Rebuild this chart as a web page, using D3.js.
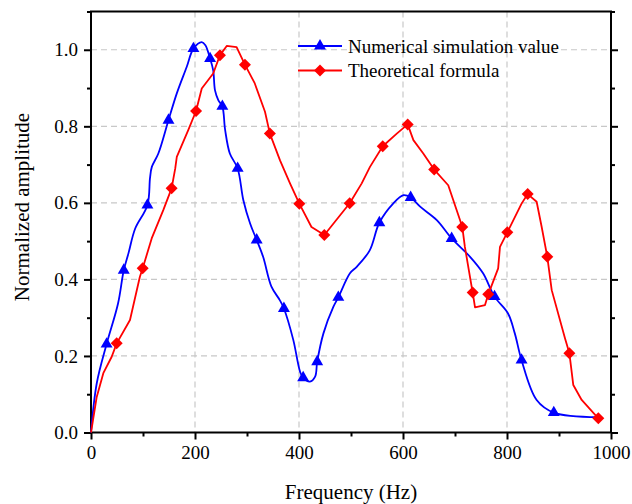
<!DOCTYPE html>
<html>
<head>
<meta charset="utf-8">
<script src="https://cdn.jsdelivr.net/npm/d3@7"></script>
<style>
body{margin:0;background:#fff;}
text{font-family:"Liberation Serif","Times New Roman",serif;fill:#000;}
</style>
</head>
<body>
<div id="main"></div>
<script>
const W = 632;
const H = 504;

// numerical simulation (blue), markers drawn at numMarks indices
var numFreq = [0, 11, 30, 52, 63, 72, 85, 108.5, 113.5, 117, 129.5, 149, 165, 184, 197, 213, 220, 229, 235, 238.5,
               245, 252.6, 258, 267, 282, 293, 306, 318.6, 331, 347, 363, 371, 389, 402, 408, 421, 431, 435, 447, 466,
               475.6, 498, 511, 536, 554.5, 581, 601, 614.7, 633, 665, 693.6, 729, 754, 776, 802, 815, 828, 857, 890, 975];
var numAmp = [0, 0.128, 0.231, 0.337, 0.424, 0.468, 0.533, 0.594, 0.665, 0.694, 0.729, 0.816, 0.886, 0.955, 1.003, 1.02, 1.012, 0.977, 0.946, 0.894,
              0.868, 0.852, 0.79, 0.729, 0.69, 0.607, 0.546, 0.503, 0.459, 0.381, 0.346, 0.324, 0.242, 0.159, 0.143, 0.133, 0.146, 0.185, 0.259, 0.328,
              0.353, 0.416, 0.433, 0.476, 0.548, 0.598, 0.62, 0.614, 0.59, 0.555, 0.507, 0.459, 0.416, 0.355, 0.311, 0.259, 0.189, 0.085, 0.052, 0.04];
var numMarks = [2, 4, 7, 11, 14, 17, 21, 24, 27, 31, 34, 37, 40, 44, 47, 50, 53, 56, 58];

// theoretical formula (red)
var thFreq = [0, 11, 23.7, 39.8, 49.4, 75, 94, 99.4, 116.7, 139, 155, 162, 165, 187, 202, 213, 235, 248, 261, 280,
              296, 315, 334.6, 344, 363.5, 382.7, 400.6, 424, 448.7, 497.5, 520.6, 536.5, 561, 588, 609, 620, 639, 660, 687, 709.6,
              714, 719, 732, 734, 738.5, 757.7, 764, 783, 786.5, 800.6, 828, 839.8, 857, 866.7, 877.5, 886, 911.5, 920, 927.5, 943.6, 975.6];
var thAmp = [0, 0.093, 0.155, 0.198, 0.233, 0.294, 0.407, 0.429, 0.507, 0.581, 0.638, 0.69, 0.72, 0.79, 0.84, 0.899, 0.938, 0.986, 1.01, 1.007,
             0.961, 0.912, 0.838, 0.781, 0.711, 0.651, 0.598, 0.537, 0.516, 0.599, 0.651, 0.694, 0.748, 0.781, 0.805, 0.764, 0.729, 0.687, 0.646, 0.555,
             0.537, 0.485, 0.381, 0.366, 0.327, 0.333, 0.361, 0.429, 0.485, 0.523, 0.598, 0.623, 0.603, 0.537, 0.459, 0.372, 0.246, 0.207, 0.124, 0.085, 0.037];
var thMarks = [4, 7, 10, 14, 17, 20, 23, 26, 28, 29, 32, 34, 37, 40, 43, 46, 49, 51, 54, 57, 60];

var xTicks = [0, 200, 400, 600, 800, 1000];
var xMinor = [100, 300, 500, 700, 900];
var yTicks = [0, 0.2, 0.4, 0.6, 0.8, 1.0];
var yMinor = [0.1, 0.3, 0.5, 0.7, 0.9, 1.1];
var legendLabels = ["Numerical simulation value", "Theoretical formula"];

var plot = {left: 91, right: 611, top: 11.5, bottom: 432.5};

var x = d3.scaleLinear().domain([0, 1000]).range([plot.left, plot.right]);
var y = d3.scaleLinear().domain([0, 1.1]).range([plot.bottom, plot.top]);

var svg = d3.select("#main").append("svg")
    .attr("width", W)
    .attr("height", H);

// dashed grid
svg.append("g").selectAll("line")
    .data(xTicks.slice(1, -1))
    .enter().append("line")
    .attr("x1", d => x(d)).attr("x2", d => x(d))
    .attr("y1", plot.top).attr("y2", plot.bottom)
    .attr("stroke", "#c8c8c8").attr("stroke-width", 1.2)
    .attr("stroke-dasharray", "6,4");
svg.append("g").selectAll("line")
    .data(yTicks.slice(1))
    .enter().append("line")
    .attr("x1", plot.left).attr("x2", plot.right)
    .attr("y1", d => y(d)).attr("y2", d => y(d))
    .attr("stroke", "#c8c8c8").attr("stroke-width", 1.2)
    .attr("stroke-dasharray", "6,4");

var styleAxis = function(g){
    g.select(".domain").remove();
    g.selectAll(".tick line").attr("stroke", "#000").attr("stroke-width", 2);
    g.selectAll(".tick text").style("font-size", "19px").style("font-family", "'Liberation Serif', serif");
};

// bottom axis
svg.append("g").attr("transform", "translate(0," + plot.bottom + ")")
    .call(d3.axisBottom(x).tickValues(xTicks).tickSize(7).tickPadding(6).tickFormat(d3.format("d")))
    .call(styleAxis);
svg.append("g").attr("transform", "translate(0," + plot.bottom + ")")
    .call(d3.axisBottom(x).tickValues(xMinor).tickSize(4).tickFormat(""))
    .call(styleAxis);
// left axis
svg.append("g").attr("transform", "translate(" + plot.left + ",0)")
    .call(d3.axisLeft(y).tickValues(yTicks).tickSize(7).tickPadding(6).tickFormat(d3.format(".1f")))
    .call(styleAxis);
svg.append("g").attr("transform", "translate(" + plot.left + ",0)")
    .call(d3.axisLeft(y).tickValues(yMinor).tickSize(4).tickFormat(""))
    .call(styleAxis);
// right axis, ticks only
svg.append("g").attr("transform", "translate(" + plot.right + ",0)")
    .call(d3.axisRight(y).tickValues(yTicks).tickSize(7).tickFormat(""))
    .call(styleAxis);
svg.append("g").attr("transform", "translate(" + plot.right + ",0)")
    .call(d3.axisRight(y).tickValues(yMinor).tickSize(4).tickFormat(""))
    .call(styleAxis);

// frame
svg.append("rect")
    .attr("x", plot.left).attr("y", plot.top)
    .attr("width", plot.right - plot.left).attr("height", plot.bottom - plot.top)
    .attr("fill", "none").attr("stroke", "#000").attr("stroke-width", 2);

// square diamond = square turned 45deg
var series = [
    {f: numFreq, a: numAmp, marks: numMarks, color: "#0000ff", shape: d3.symbolTriangle, size: 62, rot: 0,
     curve: d3.curveCatmullRom.alpha(0.5)},
    {f: thFreq, a: thAmp, marks: thMarks, color: "#ff0000", shape: d3.symbolSquare, size: 72, rot: 45,
     curve: d3.curveLinear}
];

series.forEach(function(s){
    var pts = s.f.map((f, i) => [f, s.a[i]]);
    var line = d3.line().x(d => x(d[0])).y(d => y(d[1])).curve(s.curve);
    svg.append("path")
        .attr("d", line(pts))
        .attr("fill", "none")
        .attr("stroke", s.color)
        .attr("stroke-width", 1.8)
        .attr("stroke-linejoin", "round");
});

series.forEach(function(s){
    svg.append("g").selectAll("path")
        .data(s.marks)
        .enter().append("path")
        .attr("d", d3.symbol().type(s.shape).size(s.size))
        .attr("transform", i => "translate(" + x(s.f[i]) + "," + y(s.a[i]) + ") rotate(" + s.rot + ")")
        .attr("fill", s.color);
});

// legend
var leg = svg.append("g");
series.forEach(function(s, k){
    var ly = 46 + k * 24.5;
    leg.append("line")
        .attr("x1", 298).attr("x2", 342).attr("y1", ly).attr("y2", ly)
        .attr("stroke", s.color).attr("stroke-width", 1.8);
    leg.append("path")
        .attr("d", d3.symbol().type(s.shape).size(s.size))
        .attr("transform", "translate(320," + ly + ") rotate(" + s.rot + ")")
        .attr("fill", s.color);
    leg.append("text")
        .attr("x", 348).attr("y", ly).attr("dy", "0.35em")
        .style("font-size", "19px")
        .text(legendLabels[k]);
});

// axis titles
svg.append("text")
    .attr("x", (plot.left + plot.right) / 2).attr("y", 499)
    .attr("text-anchor", "middle")
    .style("font-size", "21px")
    .text("Frequency (Hz)");
svg.append("text")
    .attr("transform", "translate(29," + 207 + ") rotate(-90)")
    .attr("text-anchor", "middle")
    .style("font-size", "21px")
    .text("Normalized amplitude");
</script>
</body>
</html>
